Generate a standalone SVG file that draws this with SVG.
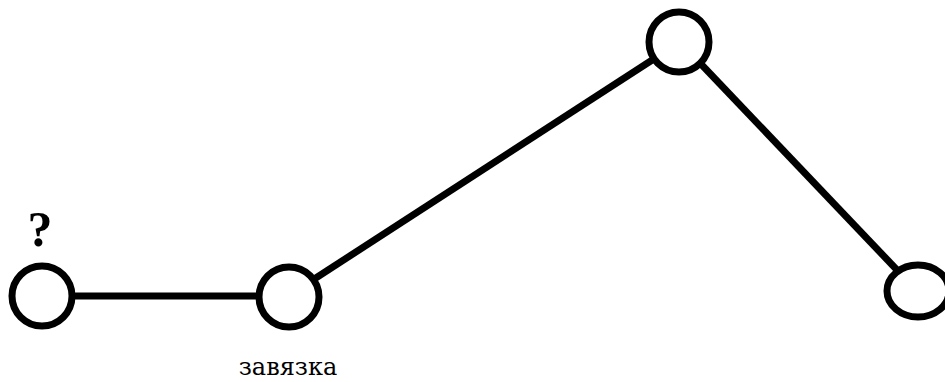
<svg xmlns="http://www.w3.org/2000/svg" width="945" height="382" viewBox="0 0 945 382">
<style>
.n{fill:#fff;stroke:#000;stroke-width:7}
.c{stroke:#000;stroke-width:7;fill:none}
.t{font-family:"DejaVu Serif","Liberation Serif",serif;fill:#000}
</style>
<rect width="945" height="382" fill="#fff"/>
<g id="connectors">
<line class="c" x1="42" y1="296" x2="288" y2="296"/>
<line class="c" x1="288" y1="296" x2="680" y2="42"/>
<line class="c" x1="680" y1="42" x2="918" y2="292"/>
</g>
<g id="n1"><circle class="n" cx="42" cy="296" r="30"/><text x="40" y="246" font-family="Liberation Serif, serif" font-size="50" font-weight="bold" text-anchor="middle">?</text></g>
<g id="n2"><circle class="n" cx="289" cy="297" r="30"/><text class="t" x="288" y="375" font-size="24" text-anchor="middle">завязка</text></g>
<g id="n3"><circle class="n" cx="679" cy="42" r="30"/></g>
<g id="n4"><ellipse class="n" cx="918" cy="291" rx="31" ry="26"/></g>
</svg>
